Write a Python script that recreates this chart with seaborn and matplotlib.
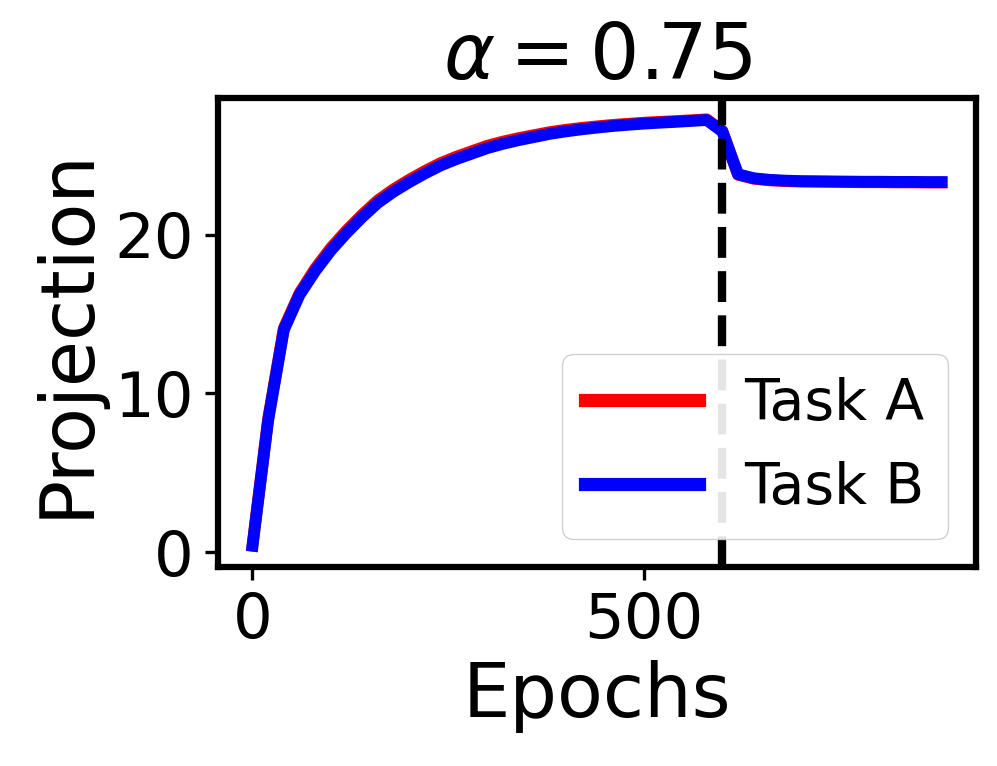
import numpy as np
import pandas as pd
import seaborn as sns
import matplotlib
matplotlib.use("Agg")
import matplotlib.pyplot as plt

# epochs (task switch at 600)
epochs = list(range(0, 881, 20))

task_a = [0.4, 8.4, 14.1, 16.3, 17.85, 19.15, 20.25, 21.25, 22.15, 22.85,
          23.45, 24.0, 24.5, 24.9, 25.25, 25.6, 25.86, 26.08, 26.27, 26.46,
          26.6, 26.72, 26.82, 26.91, 26.98, 27.05, 27.1, 27.15, 27.2, 27.26,
          26.53, 23.77, 23.52, 23.42, 23.37, 23.34, 23.33, 23.32, 23.31, 23.3,
          23.3, 23.29, 23.29, 23.28, 23.28]
task_b = [0.4, 8.3, 14.0, 16.2, 17.7, 19.0, 20.1, 21.1, 22.0, 22.7,
          23.3, 23.85, 24.35, 24.75, 25.1, 25.45, 25.72, 25.95, 26.15, 26.35,
          26.5, 26.63, 26.74, 26.84, 26.92, 26.99, 27.05, 27.1, 27.16, 27.22,
          26.5, 23.8, 23.55, 23.45, 23.4, 23.37, 23.36, 23.35, 23.34, 23.33,
          23.33, 23.32, 23.32, 23.31, 23.31]
switch_epoch = 600
alpha = 0.75

fig = plt.figure(figsize=(9.97, 7.66), dpi=100)
ax = fig.add_axes([0.2187, 0.2598, 0.979 - 0.2187, 0.872 - 0.2598])

sns.lineplot(x=epochs, y=task_a, color='red', linewidth=8.5, label='Task A', ax=ax)
sns.lineplot(x=epochs, y=task_b, color='blue', linewidth=8.5, label='Task B', ax=ax)
ax.axvline(switch_epoch, color='black', linestyle='--', linewidth=6)

ax.set_xticks([0, 500])
ax.set_yticks([0, 10, 20])
ax.tick_params(labelsize=45, length=9.5, width=2.4, pad=8)
for sp in ax.spines.values():
    sp.set_linewidth(4.5)
    sp.set_color('black')

ax.set_xlabel('Epochs', fontsize=54, labelpad=6)
ax.set_ylabel('Projection', fontsize=54, labelpad=8)
ax.set_title(r'$\alpha = %.2f$' % alpha, fontsize=56, pad=14)
leg = ax.legend(loc='lower right', fontsize=41, framealpha=0.9)
for h in leg.get_lines():
    h.set_linewidth(9.5)

fig.savefig('out.png', dpi=100)
